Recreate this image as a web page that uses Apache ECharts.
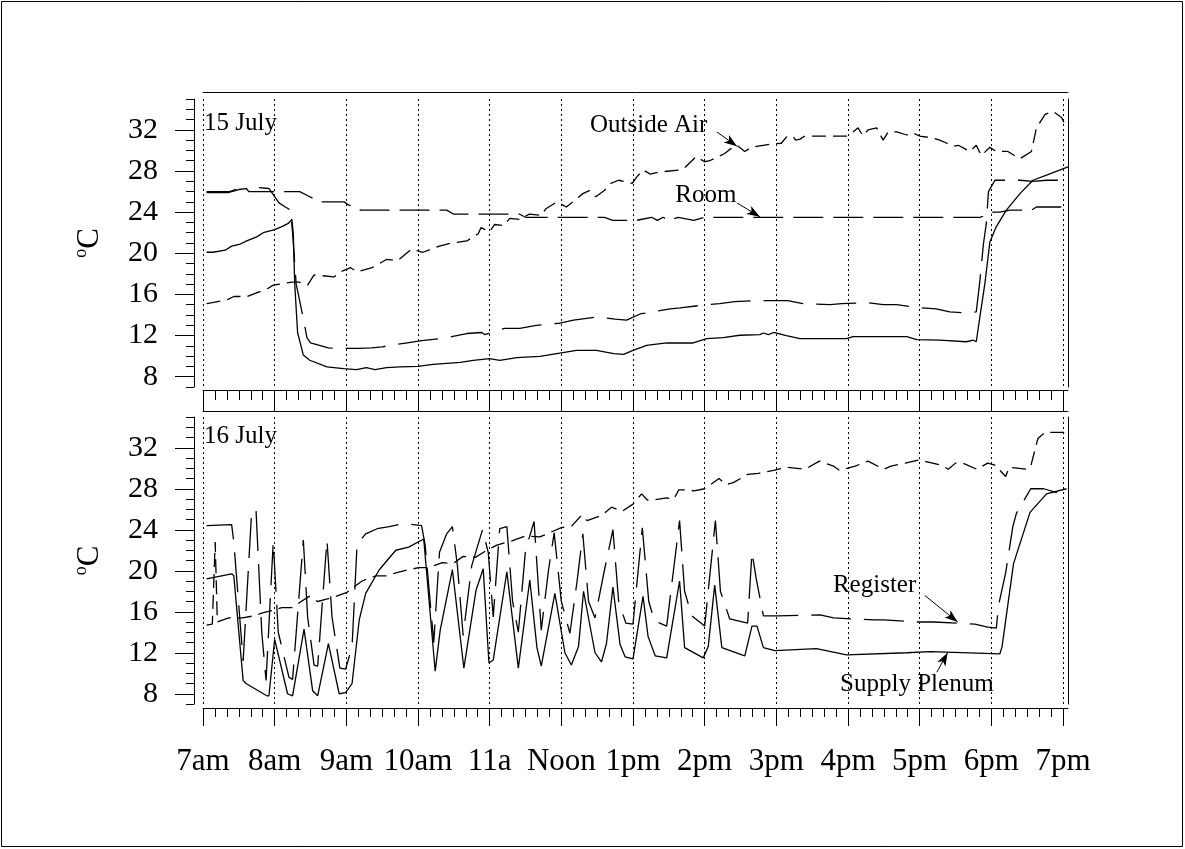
<!DOCTYPE html>
<html>
<head>
<meta charset="utf-8">
<script src="https://cdn.jsdelivr.net/npm/echarts@6/dist/echarts.min.js"></script>
<style>
  html, body { margin: 0; padding: 0; background: #fff; }
  #chart { width: 1185px; height: 849px; }
</style>
</head>
<body>
<div id="chart"></div>
<script>
// Time is in decimal hours (7 = 7am, 19 = 7pm); temperatures in degrees C.
const hourTicks = [7, 8, 9, 10, 11, 12, 13, 14, 15, 16, 17, 18, 19];
const hourLabels = ['7am', '8am', '9am', '10am', '11a', 'Noon', '1pm', '2pm', '3pm', '4pm', '5pm', '6pm', '7pm'];
const tempTicks = [8, 12, 16, 20, 24, 28, 32];

// ---- 15 July ----
const outsideAir15 = [[7.05,15.1],[7.13,15.2],[7.34,15.5],[7.43,15.8],[7.62,15.8],[7.73,16.1],[7.91,16.6],[7.98,16.9],[8.24,17.2],[8.34,17.2],[8.46,16.9],[8.55,17.9],[8.83,17.7],[8.92,18.2],[9.06,18.6],[9.15,18.2],[9.36,18.6],[9.56,19.4],[9.72,19.3],[9.91,20.4],[10.07,20.1],[10.30,20.7],[10.47,21.0],[10.68,21.2],[10.84,21.9],[10.88,22.5],[11.0,22.1],[11.07,22.8],[11.2,22.7],[11.28,23.4],[11.42,23.3],[11.55,23.8],[11.72,23.7],[11.78,24.3],[11.94,25.0],[12.07,24.5],[12.30,25.8],[12.39,26.1],[12.48,25.5],[12.6,26.1],[12.69,26.8],[12.8,27.1],[12.99,26.8],[13.05,27.4],[13.14,28.1],[13.24,27.7],[13.37,27.9],[13.65,28.1],[13.72,28.3],[13.88,29.4],[14.0,28.9],[14.07,29.0],[14.28,29.7],[14.37,30.2],[14.45,30.5],[14.56,29.9],[14.65,30.3],[14.91,30.6],[15.07,30.7],[15.14,31.3],[15.23,31.4],[15.27,31.0],[15.33,31.1],[15.4,31.4],[15.6,31.4],[15.98,31.4],[16.07,31.8],[16.14,32.2],[16.21,31.4],[16.28,32.0],[16.4,32.2],[16.49,31.0],[16.56,31.8],[16.68,31.8],[16.82,31.5],[16.91,31.7],[17.0,31.4],[17.19,31.2],[17.28,31.0],[17.38,30.7],[17.47,30.4],[17.54,30.5],[17.7,29.9],[17.79,30.5],[17.86,29.5],[17.98,30.3],[18.07,29.9],[18.23,29.9],[18.3,29.6],[18.4,29.2],[18.56,29.9],[18.63,32.2],[18.75,33.5],[18.86,33.8],[18.98,33.2],[19.05,32.2]];
const room15 = [[7.05,26.0],[7.37,26.0],[7.50,26.3],[7.59,26.4],[7.64,26.0],[8.35,26.0],[8.49,25.5],[8.63,25.0],[8.97,25.0],[9.03,24.7],[9.12,24.5],[9.2,24.2],[10.4,24.2],[10.5,23.8],[11.42,23.8],[11.5,23.5],[12.6,23.5],[12.72,23.2],[13.05,23.2],[13.26,23.5],[13.34,23.2],[13.42,23.5],[13.5,23.2],[13.63,23.5],[13.85,23.2],[14.0,23.5],[17.84,23.5],[17.93,23.7],[18.03,24.0],[18.12,24.0],[18.26,24.2],[18.56,24.2],[18.63,24.5],[19.07,24.5]];
const register15 = [[7.05,25.9],[7.35,25.9],[7.50,26.2],[7.75,26.4],[7.92,26.3],[8.0,25.5],[8.06,24.9],[8.15,24.5],[8.22,24.2],[8.25,22.0],[8.30,17.0],[8.34,15.7],[8.41,13.3],[8.45,11.8],[8.50,11.3],[8.75,10.8],[9.0,10.75],[9.18,10.75],[9.35,10.8],[9.50,10.9],[9.65,11.1],[9.85,11.3],[10.05,11.5],[10.3,11.7],[10.47,11.9],[10.68,12.2],[10.89,12.3],[10.93,12.1],[11.21,12.7],[11.42,12.7],[11.65,13.0],[11.98,13.2],[12.17,13.5],[12.5,13.8],[12.75,13.6],[12.91,13.5],[13.1,14.1],[13.52,14.6],[13.66,14.7],[14.03,15.0],[14.21,15.1],[14.42,15.3],[14.72,15.4],[14.98,15.4],[15.16,15.4],[15.37,15.1],[15.75,15.0],[15.91,15.1],[16.26,15.2],[16.49,15.0],[16.68,15.0],[17.0,14.7],[17.23,14.6],[17.42,14.3],[17.65,14.2],[17.79,14.3],[17.84,17.3],[17.89,20.9],[17.93,22.9],[17.96,26.0],[18.05,27.1],[18.4,27.1],[18.58,27.0],[18.77,27.1],[19.07,27.1]];
const supply15 = [[7.05,20.1],[7.14,20.1],[7.31,20.3],[7.40,20.7],[7.52,20.9],[7.61,21.2],[7.75,21.6],[7.84,22.0],[8.0,22.3],[8.1,22.6],[8.19,22.9],[8.24,23.3],[8.26,21.9],[8.28,17.0],[8.32,12.3],[8.40,10.1],[8.49,9.6],[8.73,8.95],[8.96,8.79],[9.14,8.69],[9.28,8.88],[9.40,8.69],[9.56,8.88],[9.75,8.95],[10.0,9.0],[10.21,9.2],[10.4,9.3],[10.59,9.4],[10.77,9.59],[11.0,9.75],[11.14,9.59],[11.38,9.85],[11.70,9.98],[11.98,10.3],[12.21,10.57],[12.49,10.57],[12.73,10.24],[12.87,10.18],[13.0,10.57],[13.19,11.05],[13.47,11.28],[13.84,11.28],[14.03,11.7],[14.26,11.8],[14.49,12.03],[14.77,12.1],[14.82,12.25],[14.89,12.1],[14.96,12.3],[15.14,12.0],[15.33,11.7],[15.98,11.7],[16.07,11.9],[16.82,11.9],[16.96,11.6],[17.28,11.55],[17.65,11.4],[17.75,11.55],[17.79,11.4],[17.84,13.8],[17.91,17.05],[17.98,21.1],[18.07,22.6],[18.21,24.2],[18.4,25.8],[18.58,27.1],[18.77,27.6],[19.07,28.4]];

// ---- 16 July ----
const outsideAir16 = [[7.05,14.7],[7.13,14.8],[7.17,22.8],[7.20,15.0],[7.36,15.4],[7.55,15.4],[7.71,15.6],[7.83,15.9],[8.01,16.2],[8.10,16.4],[8.24,16.4],[8.48,17.5],[8.60,17.0],[8.71,17.2],[8.85,17.5],[9.01,17.9],[9.22,19.0],[9.41,19.5],[9.57,19.5],[9.69,19.8],[9.87,20.1],[10.01,20.3],[10.15,20.3],[10.34,20.8],[10.49,20.7],[10.63,21.4],[10.80,21.3],[10.96,22.0],[11.10,22.5],[11.30,22.9],[11.50,23.4],[11.70,23.3],[12.0,24.2],[12.15,24.4],[12.28,25.4],[12.36,24.9],[12.56,25.4],[12.70,26.2],[12.85,25.8],[13.0,26.5],[13.12,27.5],[13.2,26.9],[13.28,26.9],[13.47,27.1],[13.57,27.0],[13.64,27.9],[13.75,27.9],[13.85,27.8],[14.0,28.0],[14.2,29.0],[14.3,28.4],[14.4,28.6],[14.6,29.4],[14.75,29.5],[14.96,29.8],[15.15,30.1],[15.4,29.9],[15.6,30.7],[15.8,30.2],[15.88,29.8],[16.1,30.2],[16.28,30.7],[16.5,29.9],[16.6,30.2],[16.8,30.5],[16.98,30.8],[17.12,30.6],[17.3,30.3],[17.4,29.9],[17.5,30.5],[17.6,30.5],[17.8,29.9],[17.95,30.5],[18.05,30.3],[18.2,29.2],[18.25,30.1],[18.5,29.9],[18.55,30.2],[18.65,32.9],[18.75,33.5],[19.07,33.5]];
const register16 = [[7.05,24.4],[7.40,24.5],[7.43,22.8],[7.56,11.2],[7.68,25.9],[7.74,25.9],[7.82,14.0],[7.88,9.3],[7.98,22.8],[8.05,14.0],[8.20,9.6],[8.25,9.4],[8.40,23.0],[8.46,15.5],[8.55,10.8],[8.60,10.7],[8.73,23.0],[8.80,15.5],[8.91,10.5],[8.99,10.4],[9.08,12.6],[9.15,22.6],[9.27,23.6],[9.43,24.1],[9.60,24.3],[9.80,24.6],[10.05,24.4],[10.10,22.5],[10.22,13.0],[10.30,21.8],[10.40,23.6],[10.48,24.3],[10.55,20.5],[10.63,13.7],[10.75,20.5],[10.90,24.0],[10.98,21.8],[11.05,15.5],[11.14,24.1],[11.24,24.3],[11.32,17.0],[11.40,14.0],[11.50,22.0],[11.62,24.8],[11.72,14.2],[11.82,20.0],[11.90,23.7],[12.0,17.0],[12.12,13.9],[12.22,19.0],[12.30,23.6],[12.38,17.0],[12.47,15.4],[12.60,20.0],[12.72,24.0],[12.80,17.0],[12.90,14.9],[13.00,14.8],[13.13,24.2],[13.22,17.0],[13.30,15.1],[13.47,14.6],[13.65,24.9],[13.72,18.0],[13.82,15.6],[14.00,14.6],[14.15,24.9],[14.22,18.0],[14.35,15.3],[14.60,14.9],[14.66,21.8],[14.72,19.2],[14.82,15.6],[15.03,15.6],[15.61,15.7],[15.80,15.4],[16.36,15.2],[16.50,15.2],[16.97,15.0],[17.20,15.0],[17.77,14.8],[17.95,14.5],[18.07,14.4],[18.10,16.6],[18.20,19.8],[18.30,24.3],[18.35,25.6],[18.55,28.0],[18.73,28.0],[19.07,27.3]];
const supply16 = [[7.05,19.2],[7.40,19.7],[7.43,19.5],[7.56,9.3],[7.60,9.0],[7.89,7.8],[7.92,7.8],[8.00,13.3],[8.18,8.0],[8.25,7.8],[8.41,14.3],[8.53,8.3],[8.60,7.8],[8.75,12.9],[8.90,8.0],[8.99,8.1],[9.08,9.0],[9.18,15.2],[9.27,17.8],[9.46,20.1],[9.69,22.0],[9.87,22.3],[10.08,23.1],[10.24,10.2],[10.31,14.2],[10.48,20.1],[10.64,10.5],[10.81,18.1],[10.91,20.2],[10.99,11.0],[11.05,11.3],[11.24,19.9],[11.40,10.5],[11.56,19.1],[11.66,12.5],[11.72,10.7],[11.91,17.8],[12.05,12.0],[12.14,10.8],[12.24,12.6],[12.31,18.0],[12.47,12.0],[12.56,11.1],[12.63,12.9],[12.72,18.4],[12.82,12.8],[12.89,11.6],[13.00,11.4],[13.14,17.5],[13.21,13.6],[13.31,11.7],[13.47,11.5],[13.65,19.0],[13.72,12.5],[13.98,11.5],[14.05,12.6],[14.14,18.6],[14.24,12.5],[14.56,11.7],[14.66,14.6],[14.73,14.6],[14.82,12.5],[14.98,12.2],[15.56,12.4],[15.98,11.8],[16.82,12.0],[17.15,12.1],[18.12,11.9],[18.15,12.6],[18.31,20.7],[18.54,25.7],[18.77,27.5],[19.05,28.0]];

// Callout text anchors [time, temp, text] and arrows [from, to]
const callouts15 = [[12.40, 32.4, 'Outside Air'], [13.59, 25.6, 'Room']];
const arrows15 = [[[14.17, 31.8], [14.45, 30.4]], [[14.45, 24.9], [14.77, 23.55]]];
const callouts16 = [[15.79, 18.6, 'Register'], [15.89, 8.9, 'Supply Plenum']];
const arrows16 = [[[17.07, 17.6], [17.53, 15.0]], [[17.24, 10.1], [17.39, 12.0]]];

// 10-minute minor tick positions along the time axis
const minuteTicks = [];
for (let m = 0; m <= 12 * 6; m++) minuteTicks.push(7 + m / 6);

const FONT = 'Liberation Serif';
const INK = '#000';
const X_MAX = 19.07;

// dash patterns: outside air short, room long, register longer, supply solid
const DASH = { oa: [14, 7], room: [30, 10], register: [40, 13], supply: 'solid' };

function timeAxes(grid, bottomOffset, topOffset, majorLen, minorLen, showLabels) {
  return [
    {
      gridIndex: grid, type: 'value', min: 7, max: X_MAX, position: 'bottom', offset: bottomOffset,
      axisLine: { show: true, onZero: false, lineStyle: { color: INK, width: 1 } },
      axisTick: { show: true, customValues: hourTicks, length: majorLen, lineStyle: { color: INK, width: 1 } },
      axisLabel: showLabels ? {
        show: true, customValues: hourTicks, margin: 38, color: INK, fontFamily: FONT, fontSize: 31,
        formatter: v => hourLabels[Math.round(v) - 7]
      } : { show: false },
      splitLine: { show: true, lineStyle: { color: INK, width: 1, type: [2, 3] } }
    },
    {
      gridIndex: grid, type: 'value', min: 7, max: X_MAX, position: 'bottom', offset: bottomOffset,
      axisLine: { show: false },
      axisTick: { show: true, customValues: minuteTicks, length: minorLen, lineStyle: { color: INK, width: 1 } },
      axisLabel: { show: false }, splitLine: { show: false }
    },
    {
      gridIndex: grid, type: 'value', min: 7, max: X_MAX, position: 'top', offset: topOffset,
      axisLine: { show: true, onZero: false, lineStyle: { color: INK, width: 1 } },
      axisTick: { show: false }, axisLabel: { show: false }, splitLine: { show: false }
    }
  ];
}

function tempAxes(grid) {
  return [
    {
      gridIndex: grid, type: 'value', min: 7, max: 35, position: 'left', offset: 9,
      axisLine: { show: true, onZero: false, lineStyle: { color: INK, width: 1 } },
      axisTick: { show: true, customValues: tempTicks, length: 19, lineStyle: { color: INK, width: 1 } },
      axisLabel: { show: true, customValues: tempTicks, margin: 36, color: INK, fontFamily: FONT, fontSize: 30 },
      splitLine: { show: false },
      name: '{o|o}{c|C}', nameLocation: 'middle', nameRotate: 90, nameGap: 86,
      nameTextStyle: {
        color: INK, fontFamily: FONT,
        rich: {
          o: { fontFamily: FONT, fontSize: 18, lineHeight: 14, verticalAlign: 'top', color: INK },
          c: { fontFamily: FONT, fontSize: 31, lineHeight: 36, color: INK }
        }
      }
    },
    {
      gridIndex: grid, type: 'value', min: 7, max: 35, interval: 1, position: 'left', offset: 9,
      axisLine: { show: false },
      axisTick: { show: true, length: 8, lineStyle: { color: INK, width: 1 } },
      axisLabel: { show: false }, splitLine: { show: false }
    },
    {
      gridIndex: grid, type: 'value', min: 7, max: 35, position: 'right', offset: 0,
      axisLine: { show: true, onZero: false, lineStyle: { color: INK, width: 1 } },
      axisTick: { show: false }, axisLabel: { show: false }, splitLine: { show: false }
    }
  ];
}

function curve(name, data, dash, xi, yi, arrows) {
  const s = {
    name, type: 'line', data, xAxisIndex: xi, yAxisIndex: yi,
    showSymbol: false, symbol: 'none', clip: false, z: 3,
    lineStyle: { color: INK, width: 1.3, type: dash }
  };
  if (arrows) {
    s.markLine = {
      silent: true, animation: false,
      symbol: ['none', 'arrow'], symbolSize: [7, 13],
      lineStyle: { color: INK, width: 1, type: 'solid' },
      label: { show: false },
      data: arrows.map(a => [{ coord: a[0] }, { coord: a[1] }])
    };
  }
  return s;
}

function calloutSeries(items, xi, yi) {
  return {
    type: 'scatter', xAxisIndex: xi, yAxisIndex: yi, symbolSize: 0, z: 4, silent: true,
    itemStyle: { opacity: 1, color: INK },
    data: items.map(c => ({ value: [c[0], c[1]], name: c[2] })),
    label: {
      show: true, position: 'right', distance: 0, formatter: p => p.name,
      color: INK, opacity: 1, textBorderWidth: 0, fontFamily: FONT, fontSize: 25
    }
  };
}

const chart = echarts.init(document.getElementById('chart'), null, { renderer: 'canvas' });

const titleStyle = { fontFamily: FONT, fontSize: 25, fontWeight: 'normal', color: INK, lineHeight: 25 };

chart.setOption({
  animation: false,
  backgroundColor: '#fff',
  title: [
    { text: '15 July', left: 204, top: 111, padding: 0, textStyle: titleStyle },
    { text: '16 July', left: 204, top: 424, padding: 0, textStyle: titleStyle }
  ],
  grid: [
    { left: 203, right: 117, top: 99, height: 288 },
    { left: 203, right: 117, top: 417, height: 287 }
  ],
  xAxis: [
    ...timeAxes(0, 3, 7, 21, 10, false),
    ...timeAxes(1, 4, 6, 18, 9, true)
  ],
  yAxis: [
    ...tempAxes(0),
    ...tempAxes(1)
  ],
  graphic: [
    { type: 'rect', silent: true, shape: { x: 1.5, y: 1.5, width: 1181, height: 845 },
      style: { fill: 'none', stroke: INK, lineWidth: 1 } }
  ],
  series: [
    curve('Outside Air', outsideAir15, DASH.oa, 0, 0, arrows15),
    curve('Room', room15, DASH.room, 0, 0),
    curve('Register', register15, DASH.register, 0, 0),
    curve('Supply Plenum', supply15, DASH.supply, 0, 0),
    calloutSeries(callouts15, 0, 0),
    curve('Outside Air', outsideAir16, DASH.oa, 3, 3),
    curve('Register', register16, DASH.register, 3, 3, arrows16),
    curve('Supply Plenum', supply16, DASH.supply, 3, 3),
    calloutSeries(callouts16, 3, 3)
  ]
});
</script>
</body>
</html>
